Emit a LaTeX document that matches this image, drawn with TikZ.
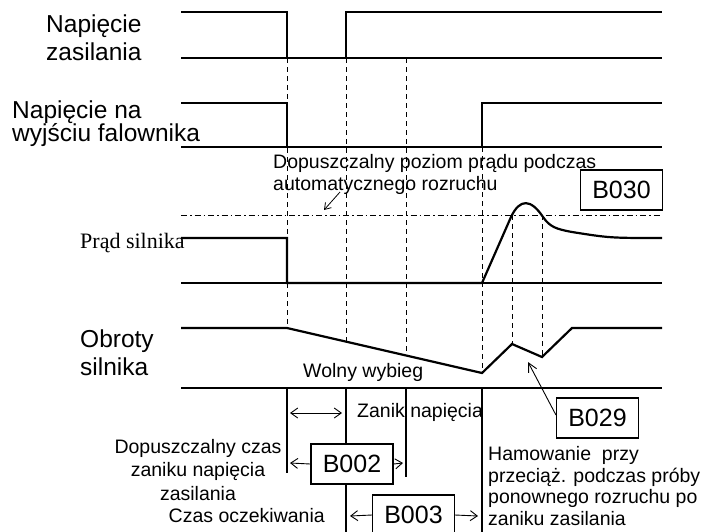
\documentclass[tikz,border=0pt]{standalone}
\usepackage{fontspec}
\setmainfont{Liberation Sans}
\newfontfamily\tms{Liberation Serif}
\usetikzlibrary{arrows.meta}
\begin{document}
\begin{tikzpicture}[x=1pt,y=-1pt,
  sig/.style={line width=2.2pt, line join=miter},
  axisline/.style={line width=1.1pt},
  guide/.style={line width=0.9pt, dash pattern=on 5pt off 4pt},
  limit/.style={line width=0.8pt, dash pattern=on 6pt off 3pt on 1.5pt off 3pt},
  tickline/.style={line width=1.1pt},
  lbl/.style={inner sep=0pt, align=left},
  sml/.style={inner sep=0pt, font=\fontsize{19.5}{21.5}\selectfont},
  param/.style={draw, line width=1.1pt, fill=white, minimum width=82pt, minimum height=40pt, inner sep=0pt, font=\fontsize{25}{28}\selectfont},
  arr/.style={-{Straight Barb[length=7pt,width=10pt]}, line width=0.9pt},
  darr/.style={{Straight Barb[length=7pt,width=10pt]}-{Straight Barb[length=7pt,width=10pt]}, line width=0.9pt},
]
\useasboundingbox (0,0) rectangle (704,531);

% guide lines
\draw[guide] (287,58) -- (287,328);
\draw[guide] (346,58) -- (346,342);
\draw[guide] (406,58) -- (406,355);
\draw[guide] (482,147) -- (482,373);
\draw[guide] (512,215) -- (512,344);
\draw[guide] (542,215) -- (542,357);
\draw[limit] (181,215) -- (662,215);

% base lines
\draw[axisline] (181,58) -- (662,58);
\draw[axisline] (181,147) -- (662,147);
\draw[axisline] (181,283) -- (662,283);
\draw[axisline] (181,388) -- (662,388);

% signals
\draw[sig] (181,12) -- (287,12) -- (287,58) -- (346,58) -- (346,12) -- (662,12);
\draw[sig] (181,103) -- (287,103) -- (287,147) -- (482,147) -- (482,103) -- (662,103);
\draw[sig] (181,238) -- (287,238) -- (287,283) -- (482,283) -- (511,217)
  .. controls (520,198) and (531,199) .. (543,217)
  .. controls (550,227) and (556,229) .. (572,232)
  .. controls (610,238) .. (662,238);
\draw[sig] (181,328) -- (287,328) -- (482,373) -- (512,344) -- (542,357) -- (572,328) -- (662,328);

% time marks
\draw[tickline] (287,388) -- (287,473);
\draw[tickline] (346,388) -- (346,535);
\draw[tickline] (406,388) -- (406,477);
\draw[tickline] (482,388) -- (482,535);

% labels
\node[lbl, anchor=base west, font=\fontsize{24.5}{28}\selectfont] (lsup) at (46,60) {Napięcie\\zasilania};
\node[lbl, anchor=base west, font=\fontsize{24.5}{23.5}\selectfont] (lout) at (12,141.7) {Napięcie na\\wyjściu falownika};
\node[lbl, anchor=base west, font=\tms\fontsize{22}{26}\selectfont] (lcur) at (80,248) {Prąd silnika};
\node[lbl, anchor=base west, font=\fontsize{24.5}{28}\selectfont] (lspd) at (80,375) {Obroty\\silnika};

\node[sml, align=left, anchor=base west] (llim) at (273,190) {Dopuszczalny poziom prądu podczas\\automatycznego rozruchu};
\coordinate (limtail) at (340,192);
\coordinate (limtip) at (324,210);
\draw[-{Straight Barb[length=6pt,width=8pt]}, line width=0.8pt] (limtail) -- (limtip);

\node[sml, anchor=base west] (lfree) at (303,377) {Wolny wybieg};
\node[sml, anchor=base west] (lloss) at (357,417) {Zanik napięcia};

\node[param] (b030) at (621.5,190) {B030};
\node[param] (b029) at (597.5,418) {B029};
\coordinate (b029tip) at (528,362);
\draw[-{Straight Barb[length=9pt,width=9pt]}, line width=0.9pt] ([yshift=3pt]b029.west) -- (b029tip);

% intervals
\coordinate (d1) at (290,413);
\coordinate (d2) at (342,413);
\draw[darr] (d1) -- (d2);

\node[param] (b002) at (352,464) {B002};
\coordinate (b002l) at (290,463);
\coordinate (b002r) at (403,463);
\draw[arr] (b002.west) -- (b002l);
\draw[arr] (b002.east) -- (b002r);

\node[param] (b003) at (413.5,515) {B003};
\coordinate (b003l) at (350,516);
\coordinate (b003r) at (478,516);
\draw[arr] (b003.west) -- (b003l);
\draw[arr] (b003.east) -- (b003r);

\node[sml, align=center, anchor=base, font=\fontsize{19.5}{23.5}\selectfont] (lallow) at (198,500) {Dopuszczalny czas\\zaniku napięcia\\zasilania};
\node[sml, anchor=base east] (lwait) at (325,522) {Czas oczekiwania};
\node[sml, align=left, anchor=base west, font=\fontsize{19.5}{21.5}\selectfont] (lbrake) at (488,525) {Hamowanie~ przy\\przeciąż. podczas próby\\ponownego rozruchu po\\zaniku zasilania};
\end{tikzpicture}
\end{document}
